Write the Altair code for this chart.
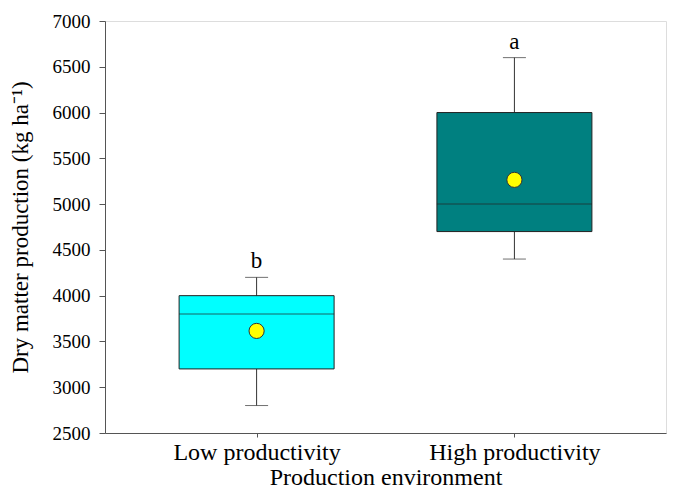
import altair as alt
import pandas as pd

env = ["Low productivity", "High productivity"]
mins = [2800, 4400]
q1 = [3200, 4700]
med = [3800, 5000]
q3 = [4000, 6000]
maxs = [4200, 6600]
means = [3615, 5265]
letters = ["b", "a"]
colors = ["#00FFFF", "#008080"]

df = pd.DataFrame({"env": env, "min": mins, "q1": q1, "med": med, "q3": q3,
                   "max": maxs, "mean": means, "letter": letters, "color": colors})

FONT = "Liberation Serif"
x = alt.X("env:N", sort=env, title="Production environment",
          scale=alt.Scale(type="point", padding=0.588),
          axis=alt.Axis(labelAngle=0, tickSize=4, labelFontSize=24, titleFontSize=24,
                        labelFont=FONT, titleFont=FONT, labelColor="black", titleColor="black",
                        domainColor="#555", tickColor="#555", labelPadding=3, titlePadding=1,
                        titleFontWeight="normal"))
yscale = alt.Scale(domain=[2500, 7000], nice=False, zero=False)
y_axis = alt.Axis(values=list(range(2500, 7001, 500)), format="d", tickSize=6, grid=False,
                  labelFontSize=19, titleFontSize=23, labelFont=FONT, titleFont=FONT,
                  labelColor="black", titleColor="black", domainColor="#555", tickColor="#555",
                  labelPadding=9, titlePadding=20, titleFontWeight="normal")

base = alt.Chart(df)

whisk = base.mark_rule(color="#333", strokeWidth=1).encode(
    x=x, y=alt.Y("min:Q", scale=yscale, axis=y_axis, title="Dry matter production (kg ha⁻¹)"),
    y2="max:Q")
caps_lo = base.mark_tick(color="#333", size=23, thickness=1).encode(x=x, y=alt.Y("min:Q", scale=yscale))
caps_hi = base.mark_tick(color="#333", size=23, thickness=1).encode(x=x, y=alt.Y("max:Q", scale=yscale))
box = base.mark_bar(size=155, stroke="#222", strokeWidth=1).encode(
    x=x, y=alt.Y("q1:Q", scale=yscale), y2="q3:Q",
    color=alt.Color("color:N", scale=None))
median = base.mark_tick(color="#222", size=155, thickness=1).encode(x=x, y=alt.Y("med:Q", scale=yscale))
mean = base.mark_point(shape="circle", filled=True, size=230, fill="#FFFF00", stroke="#333",
                       strokeWidth=1, opacity=1).encode(x=x, y=alt.Y("mean:Q", scale=yscale))
lab = base.mark_text(font=FONT, fontSize=23, baseline="bottom", dy=-4, color="black").encode(
    x=x, y=alt.Y("max:Q", scale=yscale), text="letter:N")

chart = alt.layer(whisk, caps_lo, caps_hi, box, median, mean, lab).properties(
    width=561, height=412,
    autosize=alt.AutoSizeParams(type="none"),
    padding={"left": 97, "top": 13, "right": 2, "bottom": 58},
).configure_view(stroke="#555", strokeWidth=1.5).configure(background="white")

chart.save("out.html", embed_options={"renderer": "svg", "actions": False})
